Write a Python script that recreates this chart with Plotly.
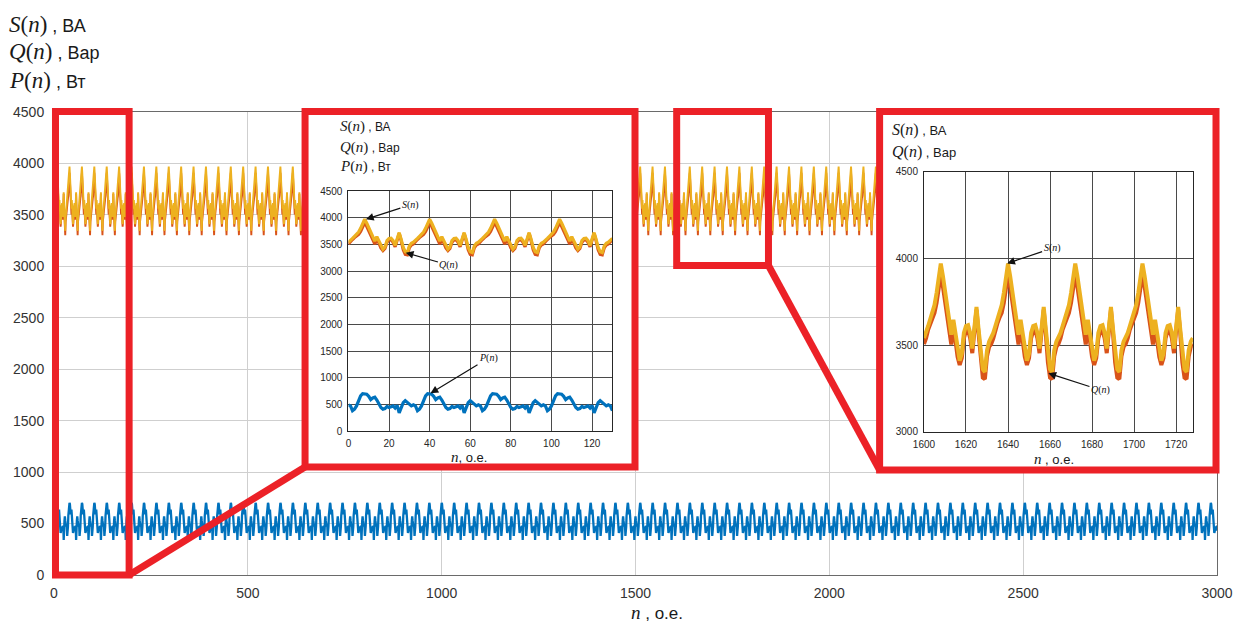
import plotly.graph_objects as go

# ---------------- data (one 32-sample period) ----------------
S_PERIOD = [3540, 3570, 3610, 3650, 3690, 3730, 3800, 3900, 3970, 3900, 3820, 3720,
            3640, 3560, 3645, 3560, 3460, 3410, 3450, 3570, 3610, 3615, 3570, 3480,
            3600, 3720, 3590, 3440, 3360, 3345, 3470, 3520]
Q_PERIOD = [3506, 3539, 3590, 3627, 3660, 3685, 3743, 3837, 3908, 3839, 3765, 3673,
            3587, 3503, 3599, 3525, 3432, 3385, 3424, 3540, 3583, 3586, 3539, 3453,
            3568, 3704, 3564, 3399, 3312, 3303, 3435, 3489]
P_PERIOD = [490, 470, 380, 410, 470, 580, 660, 700, 700, 690, 650, 590,
            620, 635, 580, 500, 440, 410, 420, 460, 440, 455, 470, 430,
            480, 340, 430, 530, 570, 530, 490, 470]
N_MAX = 3000

MAIN_X_TICKS = [0, 500, 1000, 1500, 2000, 2500, 3000]
MAIN_Y_TICKS = [0, 500, 1000, 1500, 2000, 2500, 3000, 3500, 4000, 4500]
INSET1_X_RANGE = [0, 130]
INSET1_X_TICKS = [0, 20, 40, 60, 80, 100, 120]
INSET2_X_RANGE = [1600, 1728]
INSET2_X_TICKS = [1600, 1620, 1640, 1660, 1680, 1700, 1720]
INSET2_Y_TICKS = [3000, 3500, 4000, 4500]

n_all = list(range(N_MAX + 1))
period = len(S_PERIOD)
S = [S_PERIOD[i % period] for i in n_all]
Q = [Q_PERIOD[i % period] for i in n_all]
P = [P_PERIOD[i % period] for i in n_all]

C_S = "#EDB120"
C_Q = "#D95319"
C_P = "#0072BD"
RED = "#EC2127"

# ---------------- geometry (pixels -> paper) ----------------
W, H = 1245, 625
L, R, T, B = 54, 19, 112, 50
PW, PH = W - L - R, H - T - B


def px(x):
    return (x - L) / PW


def py(y):
    return (H - B - y) / PH


def clamp(v):
    return max(0.0, min(1.0, v))


box1 = (55.5, 129.7, 111.5, 575)          # left, right, top, bottom (pixels)
ins1_box = (307, 639.5, 111.5, 467)
box2 = (681.5, 774, 111.5, 265.5)
ins2_box = (886, 1225, 111.5, 470)
ins1_plot = (350.7, 616.7, 191, 431)
ins2_plot = (930.7, 1201.7, 171.7, 431.7)


def dom(b):
    return dict(x=[clamp(px(b[0])), clamp(px(b[1]))], y=[clamp(py(b[3])), clamp(py(b[2]))])


fig = go.Figure()


def line_trace(x, y, color, width, xa, ya):
    return go.Scatter(x=x, y=y, mode="lines", line=dict(color=color, width=width),
                      xaxis=xa, yaxis=ya, showlegend=False, hoverinfo="skip")


def cover_trace(xa, ya):
    # white panel filling the whole inset frame (its own unit axes)
    return go.Scatter(x=[0, 1, 1, 0, 0], y=[0, 0, 1, 1, 0], mode="lines", fill="toself",
                      fillcolor="white", line=dict(width=0, color="white"),
                      xaxis=xa, yaxis=ya, showlegend=False, hoverinfo="skip")


# main plot
fig.add_trace(line_trace(n_all, P, C_P, 2.3, "x", "y"))
fig.add_trace(line_trace(n_all, Q, C_Q, 1.9, "x", "y"))
fig.add_trace(line_trace(n_all, S, C_S, 1.9, "x", "y"))

# inset 1 (cover + traces)
fig.add_trace(cover_trace("x2", "y2"))
i1 = [i for i in n_all if INSET1_X_RANGE[0] <= i <= INSET1_X_RANGE[1]]
fig.add_trace(line_trace(i1, [P[i] for i in i1], C_P, 3.2, "x3", "y3"))
fig.add_trace(line_trace(i1, [Q[i] for i in i1], C_Q, 3.2, "x3", "y3"))
fig.add_trace(line_trace(i1, [S[i] for i in i1], C_S, 3.2, "x3", "y3"))

# inset 2 (cover + traces)
fig.add_trace(cover_trace("x4", "y4"))
i2 = [i for i in n_all if INSET2_X_RANGE[0] <= i <= INSET2_X_RANGE[1]]
fig.add_trace(line_trace(i2, [Q[i] for i in i2], C_Q, 4, "x5", "y5"))
fig.add_trace(line_trace(i2, [S[i] for i in i2], C_S, 4, "x5", "y5"))

TICKFONT = dict(family="Liberation Sans, Arial, sans-serif", size=14, color="#333333")
SMALLFONT = dict(family="Liberation Sans, Arial, sans-serif", size=10, color="#262626")

hidden = dict(visible=False, showgrid=False, zeroline=False, range=[0, 1], fixedrange=True)
d_c1, d_c2 = dom(ins1_box), dom(ins2_box)
d_i1, d_i2 = dom(ins1_plot), dom(ins2_plot)

inset_axis = dict(showline=True, mirror=True, linecolor="#262626", linewidth=1,
                  showgrid=True, gridcolor="#4a4a4a", gridwidth=1, zeroline=False,
                  ticks="", tickfont=SMALLFONT, ticklabelstandoff=3)

fig.update_layout(
    width=W, height=H,
    margin=dict(l=L, r=R, t=T, b=B, pad=0),
    paper_bgcolor="white", plot_bgcolor="white",
    xaxis=dict(domain=[0, 1], range=[0, N_MAX], tickvals=MAIN_X_TICKS, showgrid=True,
               gridcolor="#cfcfcf", zeroline=False, showline=True, mirror=True,
               linecolor="#6a6a6a", linewidth=1, ticks="", tickfont=TICKFONT,
               ticklabelstandoff=5, anchor="y"),
    yaxis=dict(domain=[0, 1], range=[0, 4500], tickvals=MAIN_Y_TICKS, showgrid=True,
               gridcolor="#cfcfcf", zeroline=False, showline=True, mirror=True,
               linecolor="#6a6a6a", linewidth=1, ticks="", tickfont=TICKFONT,
               ticklabelstandoff=6, anchor="x"),
    xaxis2=dict(domain=d_c1["x"], anchor="y2", **hidden),
    yaxis2=dict(domain=d_c1["y"], anchor="x2", **hidden),
    xaxis3=dict(domain=d_i1["x"], anchor="y3", range=INSET1_X_RANGE, tickvals=INSET1_X_TICKS,
                **inset_axis),
    yaxis3=dict(domain=d_i1["y"], anchor="x3", range=[0, 4500], tickvals=MAIN_Y_TICKS,
                **inset_axis),
    xaxis4=dict(domain=d_c2["x"], anchor="y4", **hidden),
    yaxis4=dict(domain=d_c2["y"], anchor="x4", **hidden),
    xaxis5=dict(domain=d_i2["x"], anchor="y5", range=INSET2_X_RANGE, tickvals=INSET2_X_TICKS,
                **inset_axis),
    yaxis5=dict(domain=d_i2["y"], anchor="x5", range=[3000, 4500], tickvals=INSET2_Y_TICKS,
                **inset_axis),
)

# red frames and connectors
shapes = []
for b in (box1, ins1_box, box2, ins2_box):
    shapes.append(dict(type="rect", xref="paper", yref="paper",
                       x0=px(b[0]), x1=px(b[1]), y0=py(b[3]), y1=py(b[2]),
                       line=dict(color=RED, width=7), fillcolor="rgba(0,0,0,0)", layer="above"))
shapes.append(dict(type="line", xref="paper", yref="paper",
                   x0=px(box1[1]), y0=py(box1[3]), x1=px(ins1_box[0]), y1=py(ins1_box[3]),
                   line=dict(color=RED, width=7), layer="above"))
shapes.append(dict(type="line", xref="paper", yref="paper",
                   x0=px(box2[1]), y0=py(box2[3]), x1=px(ins2_box[0]), y1=py(ins2_box[3]),
                   line=dict(color=RED, width=7), layer="above"))
fig.update_layout(shapes=shapes)

SERIF = "Liberation Serif, DejaVu Serif, serif"
SANS = "Liberation Sans, Arial, sans-serif"


def lbl(sym, unit, msize, usize):
    return (f"<span style=\"font-family:{SERIF};font-size:{msize}px\"><i>{sym}</i>(<i>n</i>)</span>"
            f"<span style=\"font-family:{SANS};font-size:{usize}px\"> , {unit}</span>")


ann = []
for sym, unit, ycen in (("S", "ВА", 24), ("Q", "Вар", 52), ("P", "Вт", 80)):
    ann.append(dict(xref="paper", yref="paper", x=px(7), y=py(ycen), xanchor="left",
                    yanchor="middle", showarrow=False, text=lbl(sym, unit, 23, 18),
                    font=dict(color="#1a1a1a", family=SANS, size=18)))
ann.append(dict(xref="paper", yref="paper", x=px(662), y=py(612.5), xanchor="center",
                yanchor="middle", showarrow=False,
                text=(f"<span style=\"font-family:{SERIF};font-size:19px\"><i>n</i></span>"
                      f"<span style=\"font-family:{SANS};font-size:17px\"> , о.е.</span>"),
                font=dict(color="#1a1a1a", family=SANS, size=17)))

for sym, unit, ycen in (("S", "ВА", 127), ("Q", "Вар", 147), ("P", "Вт", 166)):
    ann.append(dict(xref="paper", yref="paper", x=px(340), y=py(ycen), xanchor="left",
                    yanchor="middle", showarrow=False, text=lbl(sym, unit, 15, 12),
                    font=dict(color="#1a1a1a", family=SANS, size=12)))
ann.append(dict(xref="paper", yref="paper", x=px(472), y=py(457), xanchor="center",
                yanchor="middle", showarrow=False,
                text=(f"<span style=\"font-family:{SERIF};font-size:15px\"><i>n</i></span>"
                      f"<span style=\"font-family:{SANS};font-size:13px\">, о.е.</span>"),
                font=dict(color="#1a1a1a", family=SANS, size=13)))

for sym, unit, ycen in (("S", "ВА", 130), ("Q", "Вар", 152)):
    ann.append(dict(xref="paper", yref="paper", x=px(896), y=py(ycen), xanchor="left",
                    yanchor="middle", showarrow=False, text=lbl(sym, unit, 16, 13),
                    font=dict(color="#1a1a1a", family=SANS, size=13)))
ann.append(dict(xref="paper", yref="paper", x=px(1062), y=py(459), xanchor="center",
                yanchor="middle", showarrow=False,
                text=(f"<span style=\"font-family:{SERIF};font-size:15px\"><i>n</i></span>"
                      f"<span style=\"font-family:{SANS};font-size:13px\"> , о.е.</span>"),
                font=dict(color="#1a1a1a", family=SANS, size=13)))

ARROWS = [
    ("x3", "y3", 8.6, 3970, 30.5, 4240, "S"),
    ("x3", "y3", 28.2, 3343, 49.5, 3110, "Q"),
    ("x3", "y3", 40.4, 707, 69, 1365, "P"),
    ("x5", "y5", 1639.6, 3971, 1661, 4058, "S"),
    ("x5", "y5", 1659.2, 3337, 1684, 3240, "Q"),
]
for xr, yr, x, y, ax, ay, sym in ARROWS:
    ann.append(dict(xref=xr, yref=yr, axref=xr, ayref=yr, x=x, y=y, ax=ax, ay=ay,
                    text=f"<i>{sym}</i>(<i>n</i>)", showarrow=True, arrowhead=2,
                    arrowsize=1.3, arrowwidth=1.2, arrowcolor="#111111", standoff=0,
                    font=dict(family=SERIF, size=10, color="#111111")))

fig.update_layout(annotations=ann)

fig.write_html("out.html")
